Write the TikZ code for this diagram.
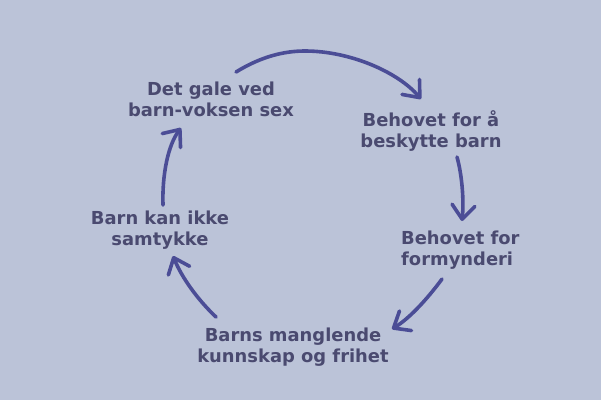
\documentclass[tikz,border=0pt]{standalone}
\usepackage{fontspec}
\setmainfont{DejaVu Sans}
\usetikzlibrary{arrows.meta}
\definecolor{bgc}{RGB}{187,195,216}
\definecolor{txtc}{RGB}{74,74,112}
\definecolor{arrc}{RGB}{75,77,150}
\begin{document}
\begin{tikzpicture}[x=1pt,y=-1pt,
  lbl/.style={font=\fontsize{17.9}{21}\selectfont\bfseries, text=txtc, align=center, inner sep=0pt},
  cyc/.style={draw=arrc, line width=3.6pt, line cap=round,
     -{Straight Barb[length=14pt,width=23pt,line cap=round,line join=round]}}]
\fill[bgc] (0,0) rectangle (601,400);
\useasboundingbox (0,0) rectangle (601,400);
\node[lbl] (gale) at (211,99) {Det gale ved\\barn-voksen sex};
\node[lbl] (beskytte) at (431,130.5) {Behovet for å\\beskytte barn};
\node[lbl, align=left, anchor=west] (form) at (401,250) {Behovet for\\formynderi};
\node[lbl] (kunnskap) at (293,347.5) {Barns manglende\\kunnskap og frihet};
\node[lbl] (samtykke) at (160,230) {Barn kan ikke\\samtykke};
\coordinate (s1) at (236,72);  \coordinate (e1) at (421,99);
\coordinate (s2) at (457,157); \coordinate (e2) at (462,221);
\coordinate (s3) at (442,279); \coordinate (e3) at (392,329);
\coordinate (s4) at (216,317); \coordinate (e4) at (173,256);
\coordinate (s5) at (163,205); \coordinate (e5) at (181,128);
\draw[cyc] (s1) .. controls (262,56) and (285,51) .. (305,51) .. controls (350,51) and (398,72) .. (e1);
\draw[cyc] (s2) .. controls (462,175) and (464,200) .. (e2);
\draw[cyc] (s3) .. controls (428,298) and (410,318) .. (e3);
\draw[cyc] (s4) .. controls (198,300) and (182,278) .. (e4);
\draw[cyc] (s5) .. controls (162,175) and (168,145) .. (e5);
\end{tikzpicture}
\end{document}
